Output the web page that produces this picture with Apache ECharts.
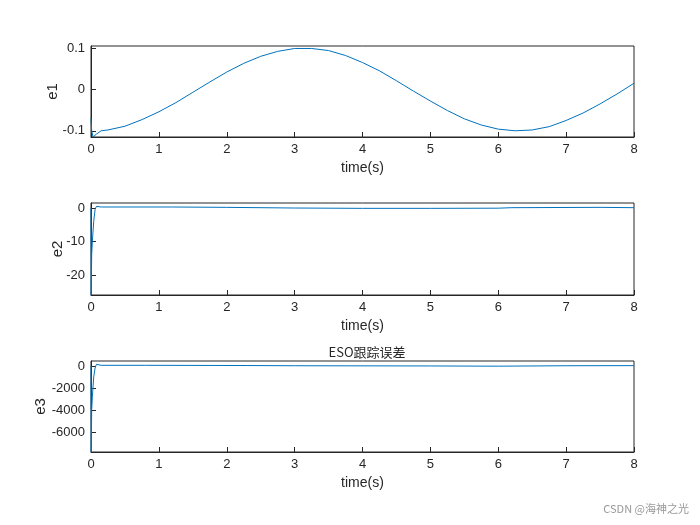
<!DOCTYPE html>
<html>
<head>
<meta charset="utf-8">
<script src="https://cdn.jsdelivr.net/npm/echarts@6/dist/echarts.min.js"></script>
<style>html,body{margin:0;background:#fff}#c{width:700px;height:525px}</style>
</head>
<body>
<div id="c"></div>
<script>
// e1 tracking error, [time, value]
const e1Data = [[0,-0.07],[0.01,-0.10],[0.03,-0.115],[0.08,-0.108],[0.15,-0.100],[0.25,-0.098],[0.5,-0.089],
  [0.75,-0.073],[1,-0.054],[1.25,-0.032],[1.5,-0.007],[1.75,0.018],[2,0.042],[2.25,0.063],[2.5,0.080],
  [2.75,0.092],[3,0.099],[3.25,0.099],[3.5,0.094],[3.75,0.082],[4,0.065],[4.25,0.045],[4.5,0.021],
  [4.75,-0.004],[5,-0.028],[5.25,-0.051],[5.5,-0.071],[5.75,-0.086],[6,-0.096],[6.25,-0.100],
  [6.5,-0.098],[6.75,-0.090],[7,-0.075],[7.25,-0.057],[7.5,-0.035],[7.75,-0.011],[8,0.015]];
const e2Data = [[0,0],[0.003,-26],[0.01,-14],[0.02,-10],[0.04,-4],[0.06,-0.5],[0.08,0.5],[0.15,0.3],
  [1.2,0.3],[2,0.2],[3,0.0],[4,-0.1],[5,-0.1],[6,-0.05],[6.2,0.1],[7.5,0.2],[8,0.1]];
const e3Data = [[0,0],[0.003,-7800],[0.01,-4000],[0.02,-2800],[0.04,-1000],[0.06,-200],[0.08,150],
  [0.15,60],[0.8,60],[2.3,40],[3,20],[5,0],[6,-20],[7,20],[8,30]];
const xTicks = {min: 0, max: 8, interval: 1};

const font = 'Liberation Sans, Arial, sans-serif';
const tops = [46, 203, 361];
const hs = [91, 92, 91];
const yRanges = [
  {min: -0.115, max: 0.105, name: 'e1', gap: 31},
  {min: -26, max: 1.5, name: 'e2', gap: 26},
  {min: -7800, max: 450, name: 'e3', gap: 43}
];
const yTickVals = [[-0.1, 0, 0.1], [-20, -10, 0], [-6000, -4000, -2000, 0]];
const series = [e1Data, e2Data, e3Data];

const grid = [], xAxis = [], yAxis = [], ser = [];
for (let i = 0; i < 3; i++) {
  grid.push({left: 91, right: 66, top: tops[i], height: hs[i], show: true,
    borderColor: '#262626', borderWidth: 1, backgroundColor: '#fff'});
  xAxis.push({type: 'value', gridIndex: i, min: xTicks.min, max: xTicks.max, interval: xTicks.interval,
    name: 'time(s)', nameLocation: 'middle', nameGap: 24,
    nameTextStyle: {fontFamily: font, fontSize: 14, color: '#262626'},
    axisLine: {show: true, onZero: false, lineStyle: {color: '#262626'}},
    axisTick: {inside: true, length: 5, lineStyle: {color: '#262626'}},
    axisLabel: {fontFamily: font, fontSize: 13, color: '#262626', margin: 6},
    splitLine: {show: false}});
  const r = yRanges[i];
  const ticks = yTickVals[i];
  yAxis.push({type: 'value', gridIndex: i, min: r.min, max: r.max,
    name: r.name, nameLocation: 'middle', nameGap: r.gap, nameMoveOverlap: false,
    nameTextStyle: {fontFamily: font, fontSize: 15, color: '#262626'},
    axisLine: {show: true, lineStyle: {color: '#262626'}},
    axisTick: {inside: true, length: 5, customValues: ticks, lineStyle: {color: '#262626'}},
    axisLabel: {fontFamily: font, fontSize: 13, color: '#262626', margin: 6, customValues: ticks,
      formatter: v => String(v)},
    splitLine: {show: false}});
  ser.push({type: 'line', xAxisIndex: i, yAxisIndex: i, data: series[i], showSymbol: false,
    lineStyle: {color: '#0072BD', width: 1}, animation: false});
}

const chart = echarts.init(document.getElementById('c'));
chart.setOption({
  animation: false,
  title: [{text: 'ESO跟踪误差', left: 362, top: 341, textAlign: 'center',
    textStyle: {fontFamily: 'Noto Sans CJK SC, sans-serif', fontSize: 13, fontWeight: 'normal', color: '#262626'}},
    {text: 'CSDN @海神之光', right: 6, bottom: 6,
    textStyle: {fontFamily: 'Noto Sans CJK SC, sans-serif', fontSize: 11, fontWeight: 'normal', color: '#999'}}],
  grid, xAxis, yAxis, series: ser
});
</script>
</body>
</html>
